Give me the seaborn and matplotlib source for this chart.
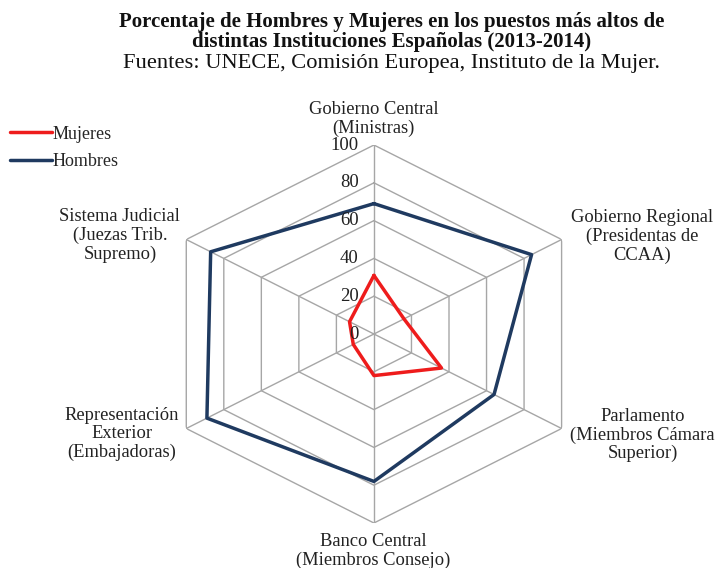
import numpy as np
import pandas as pd
import seaborn as sns
import matplotlib.pyplot as plt
from matplotlib.lines import Line2D

# datos (%)
categorias = ["Gobierno Central\n(Ministras)",
              "Gobierno Regional\n(Presidentas de\nCCAA)",
              "Parlamento\n(Miembros Cámara\nSuperior)",
              "Banco Central\n(Miembros Consejo)",
              "Representación\nExterior\n(Embajadoras)",
              "Sistema Judicial\n(Juezas Trib.\nSupremo)"]
mujeres = [31, 16, 36, 22, 11, 13]
hombres = [69, 84, 64, 78, 89, 87]
ticks_r = [0, 20, 40, 60, 80, 100]

# centro de cada etiqueta (fraccion de figura)
pos_etiquetas = [(0.520, 0.790), (0.894, 0.583), (0.895, 0.234),
                 (0.520, 0.030), (0.170, 0.236), (0.167, 0.585)]

sns.set_style("white")
plt.rcParams["font.family"] = ["Liberation Serif", "DejaVu Serif"]

n = len(categorias)
angulos = np.linspace(0, 2 * np.pi, n, endpoint=False)
ang_cerrado = np.append(angulos, 2 * np.pi)

df = pd.concat([
    pd.DataFrame({"theta": ang_cerrado, "valor": mujeres + mujeres[:1], "serie": "Mujeres"}),
    pd.DataFrame({"theta": ang_cerrado, "valor": hombres + hombres[:1], "serie": "Hombres"}),
])

fig = plt.figure(figsize=(7.18, 5.68), dpi=100)
ax = fig.add_axes([0.219, 0.0792, 0.6036, 0.6655], projection="polar")
ax.set_theta_zero_location("N")
ax.set_theta_direction(-1)
ax.set_aspect("auto")

gris = "#a6a6a6"
for r in ticks_r[1:]:
    ax.plot(ang_cerrado, [r] * (n + 1), color=gris, lw=1, zorder=1)
for a in angulos:
    ax.plot([a, a], [0, 100], color=gris, lw=1, zorder=1)

colores = {"Mujeres": "#ee1c1c", "Hombres": "#1f3a60"}
sns.lineplot(data=df, x="theta", y="valor", hue="serie", palette=colores,
             sort=False, lw=2.5, legend=False, ax=ax, zorder=3)

ax.set_ylim(0, 100)
ax.set_xticks([])
ax.set_yticks([])
ax.grid(False)
ax.spines["polar"].set_visible(False)
ax.set_xlabel("")
ax.set_ylabel("")

for r in ticks_r:
    ax.annotate(str(r), xy=(0, r), xytext=(-11, 0), textcoords="offset points",
                ha="right", va="center", fontsize=13.5, color="#222222")

for txt, (x, y) in zip(categorias, pos_etiquetas):
    fig.text(x, y, txt, ha="center", va="center", fontsize=13.3,
             color="#222222", linespacing=1.12)

handles = [Line2D([], [], color=colores["Mujeres"], lw=2.5),
           Line2D([], [], color=colores["Hombres"], lw=2.5)]
fig.legend(handles, ["Mujeres", "Hombres"], loc="upper left",
           bbox_to_anchor=(0.014, 0.779), frameon=False, fontsize=13,
           handlelength=2.3, handletextpad=0.05, labelspacing=0.6,
           borderpad=0, borderaxespad=0)

fig.text(0.545, 0.962, "Porcentaje de Hombres y Mujeres en los puestos más altos de",
         ha="center", va="center", fontsize=15, fontweight="bold", color="#111111")
fig.text(0.545, 0.926, "distintas Instituciones Españolas (2013-2014)",
         ha="center", va="center", fontsize=15, fontweight="bold", color="#111111")
fig.text(0.545, 0.888, "Fuentes: UNECE, Comisión Europea, Instituto de la Mujer.",
         ha="center", va="center", fontsize=16.2, color="#111111")

fig.savefig("out.png", dpi=100)
